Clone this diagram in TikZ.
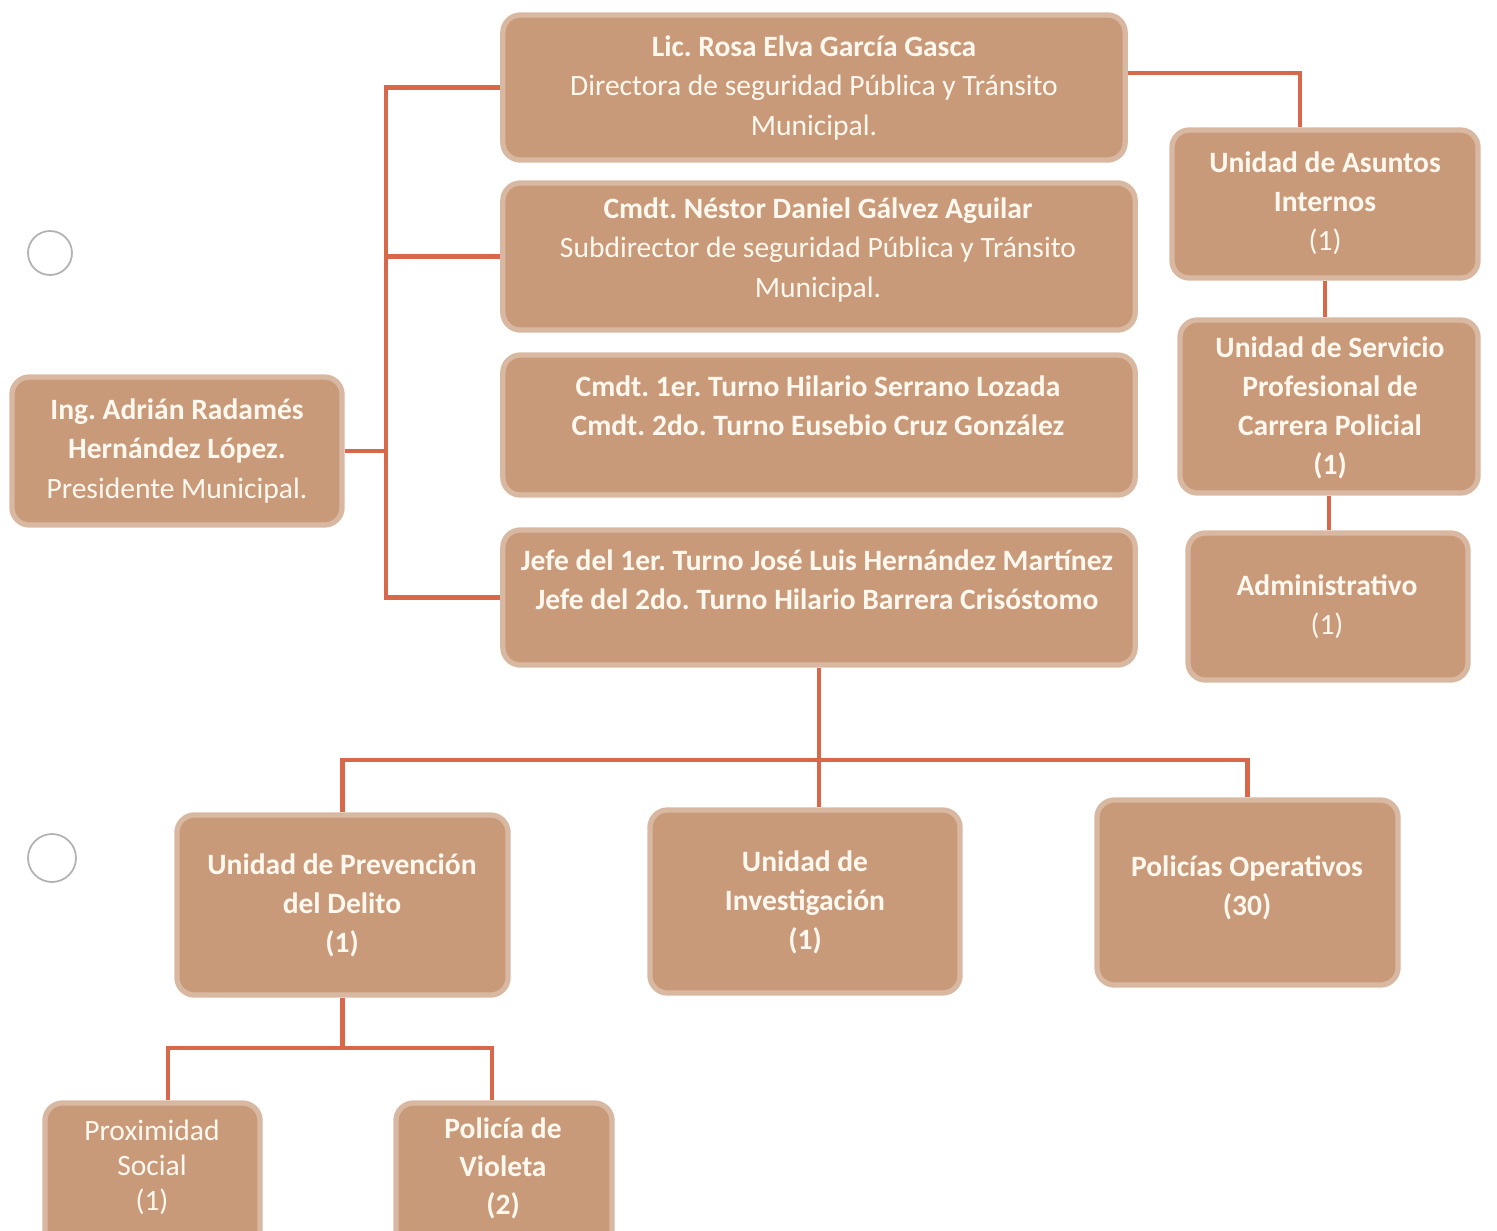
\documentclass[tikz,border=0pt]{standalone}
\usepackage{fontspec}
\setmainfont{Carlito}
\usepackage{tikz}
\usetikzlibrary{calc}
\definecolor{boxtan}{HTML}{C99A7A}
\definecolor{linkred}{HTML}{D9674A}
\definecolor{boxtext}{HTML}{FFF8EE}
\frenchspacing

\begin{document}
\begin{tikzpicture}[x=0.01cm,y=-0.01cm]
  \tikzset{unitbox/.style={rectangle,rounded corners=5pt,fill=boxtan,draw=boxtan!70,line width=1.5pt,inner sep=0pt}}
  \tikzset{boxlabel/.style={align=center,text=boxtext,inner sep=0pt,font=\fontsize{8.4}{11.1}\selectfont}}
  \tikzset{boldlabel/.style={boxlabel,font=\fontsize{8.4}{11.1}\selectfont\bfseries}}
  \tikzset{link/.style={draw=linkred,line width=1.2pt}}
  \tikzset{punchhole/.style={draw=black!30,line width=0.5pt}}
  \useasboundingbox (0,0) rectangle (1497,1230);
  \clip (0,0) rectangle (1497,1230);
  \draw[punchhole] (50,253) circle (22);
  \draw[punchhole] (52,858) circle (24);
  \coordinate (trunk) at (386,0);
  \coordinate (ai) at (1300,73);
  \coordinate (bus) at (0,760);
  \coordinate (pl) at (168,1048);
  \coordinate (pr) at (492,1048);
  \node[unitbox,minimum width=6.22cm,minimum height=1.45cm] (dir) at (814,87.5) {};
  \node[unitbox,minimum width=6.32cm,minimum height=1.47cm] (subdir) at (819,256.5) {};
  \node[unitbox,minimum width=6.32cm,minimum height=1.40cm] (turnos) at (819,425) {};
  \node[unitbox,minimum width=6.32cm,minimum height=1.35cm] (jefes) at (819,597.5) {};
  \node[unitbox,minimum width=3.30cm,minimum height=1.48cm] (pres) at (177,451) {};
  \node[unitbox,minimum width=3.06cm,minimum height=1.48cm] (asuntos) at (1325,204) {};
  \node[unitbox,minimum width=2.98cm,minimum height=1.73cm] (servicio) at (1329,406.5) {};
  \node[unitbox,minimum width=2.80cm,minimum height=1.47cm] (admin) at (1328,606.5) {};
  \node[unitbox,minimum width=3.31cm,minimum height=1.80cm] (prev) at (342.5,905) {};
  \node[unitbox,minimum width=3.10cm,minimum height=1.83cm] (invest) at (805,901.5) {};
  \node[unitbox,minimum width=3.01cm,minimum height=1.85cm] (policias) at (1247.5,892.5) {};
  \node[unitbox,minimum width=2.15cm,minimum height=1.50cm] (prox) at (152.5,1178) {};
  \node[unitbox,minimum width=2.16cm,minimum height=1.52cm] (violeta) at (504,1179) {};
  \node[boxlabel] (dirtxt) at (814,88) {\textbf{Lic. Rosa Elva García Gasca}\\Directora de seguridad Pública y Tránsito\\Municipal.};
  \node[boxlabel] (subdirtxt) at (818,250) {\textbf{Cmdt. Néstor Daniel Gálvez Aguilar}\\Subdirector de seguridad Pública y Tránsito\\Municipal.};
  \node[boldlabel] (turnostxt) at (818,406) {Cmdt. 1er. Turno Hilario Serrano Lozada\\Cmdt. 2do. Turno Eusebio Cruz González};
  \node[boldlabel] (jefestxt) at (817,580) {Jefe del 1er. Turno José Luis Hernández Martínez\\Jefe del 2do. Turno Hilario Barrera Crisóstomo};
  \node[boxlabel] (prestxt) at (177,451) {\textbf{Ing. Adrián Radamés}\\\textbf{Hernández López.}\\Presidente Municipal.};
  \node[boxlabel] (asuntostxt) at (1325,203) {\textbf{Unidad de Asuntos}\\\textbf{Internos}\\(1)};
  \node[boldlabel] (serviciotxt) at (1330,408) {Unidad de Servicio\\Profesional de\\Carrera Policial\\(1)};
  \node[boxlabel] (admintxt) at (1327,607) {\textbf{Administrativo}\\(1)};
  \node[boldlabel] (prevtxt) at (342,905) {Unidad de Prevención\\del Delito\\(1)};
  \node[boldlabel] (investtxt) at (805,902) {Unidad de\\Investigación\\(1)};
  \node[boldlabel] (policiastxt) at (1247,888) {Policías Operativos\\(30)};
  \node[boxlabel,font=\fontsize{8.4}{10}\selectfont] (proxtxt) at (152,1167) {Proximidad\\Social\\(1)};
  \node[boldlabel,font=\fontsize{8.4}{10.8}\selectfont\bfseries] (violetatxt) at (503,1168) {Policía de\\Violeta\\(2)};
  \draw[link] (dir.west) -- (dir.west -| trunk) -- (jefes.west -| trunk) -- (jefes.west);
  \draw[link] (subdir.west) -- (subdir.west -| trunk);
  \draw[link] (pres.east) -- (pres.east -| trunk);
  \draw[link] (dir.east |- ai) -- (ai) -- (ai |- asuntos.north);
  \draw[link] (asuntos.south) -- (asuntos.south |- servicio.north);
  \draw[link] (servicio.south) -- (servicio.south |- admin.north);
  \draw[link] (jefes.south) -- (jefes.south |- invest.north);
  \draw[link] (prev.north) -- (prev.north |- bus) -- (policias.north |- bus) -- (policias.north);
  \draw[link] (prev.south) -- (prev.south |- pl);
  \draw[link] (pl |- prox.north) -- (pl) -- (pr) -- (pr |- violeta.north);
\end{tikzpicture}
\end{document}
